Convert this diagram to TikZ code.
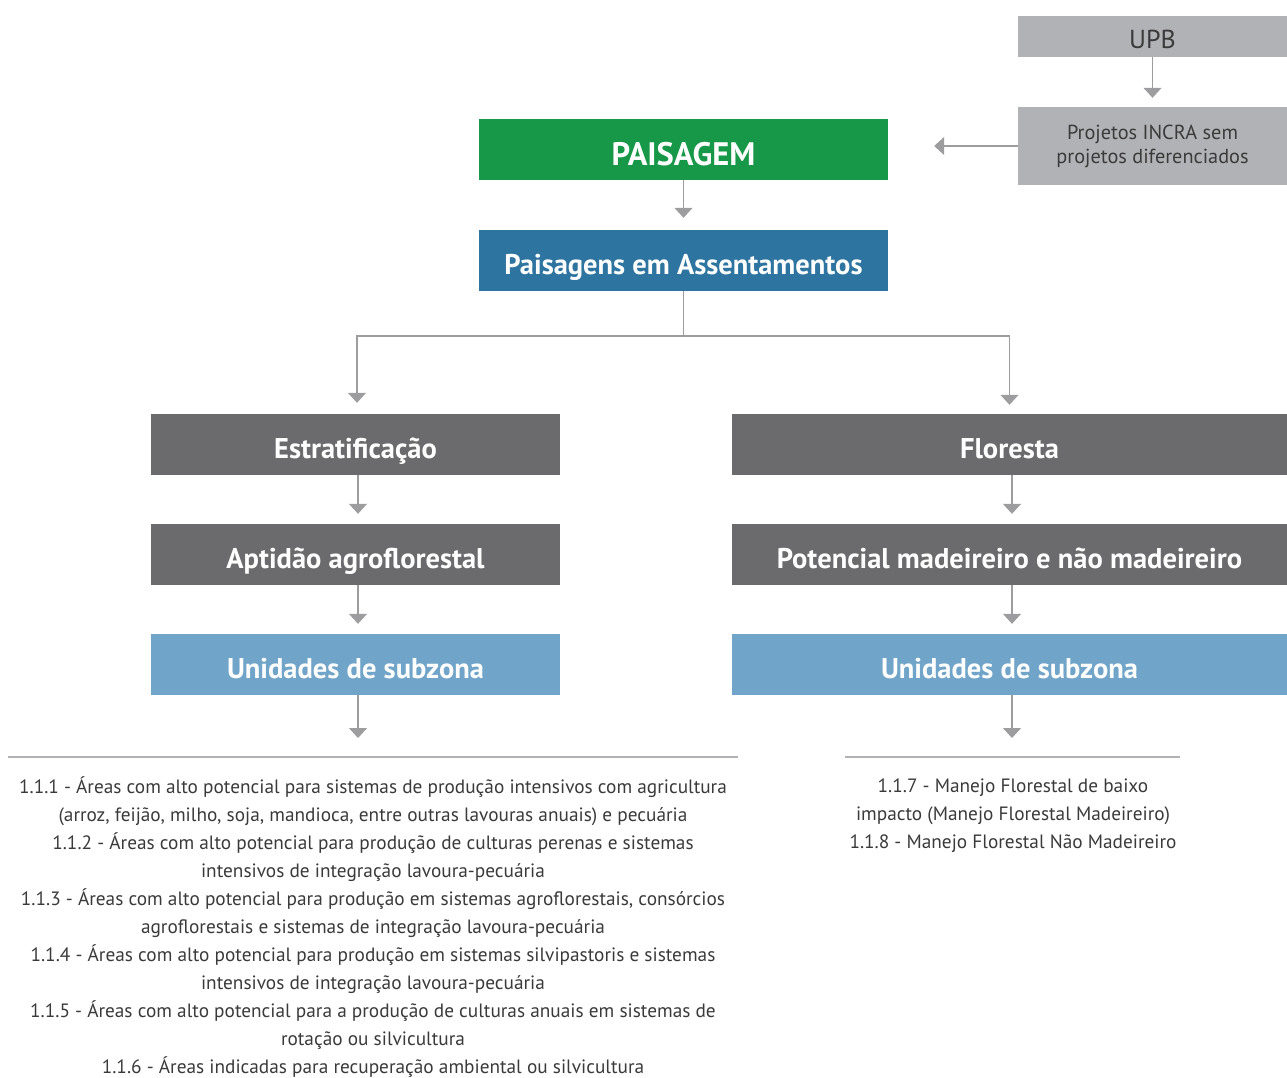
\documentclass[tikz,border=0pt]{standalone}
\usepackage{fontspec}
\setmainfont{PT Sans}
\usetikzlibrary{arrows.meta}
\definecolor{cgreen}{HTML}{169848}
\definecolor{cblue}{HTML}{2D74A0}
\definecolor{cdark}{HTML}{6B6B6D}
\definecolor{clight}{HTML}{70A4C8}
\definecolor{cpale}{HTML}{B1B2B5}
\definecolor{cline}{HTML}{9D9D9F}
\definecolor{ctext}{HTML}{3A3A3A}
\tikzset{
  boxbase/.style={rectangle, inner sep=0pt, minimum height=61pt, text height=28pt, text depth=0pt, text=white, font=\fontsize{28.5}{32}\selectfont\bfseries},
  greenbox/.style={boxbase, fill=cgreen, minimum width=409pt, font=\fontsize{32.5}{36}\selectfont\bfseries, text height=31pt},
  bluebox/.style={boxbase, fill=cblue, minimum width=409pt},
  leftbox/.style={boxbase, fill=cdark, minimum width=409pt},
  rightbox/.style={boxbase, fill=cdark, minimum width=555pt},
  lleftbox/.style={boxbase, fill=clight, minimum width=409pt},
  lrightbox/.style={boxbase, fill=clight, minimum width=555pt},
  palebox/.style={rectangle, inner sep=0pt, fill=cpale, minimum width=269pt, text=ctext, align=center},
  arr/.style={draw=cline, line width=1.3pt, -{Triangle[width=18pt,length=10pt]}},
  plain/.style={draw=cline, line width=1.3pt},
  rule/.style={draw=cpale, line width=1.3pt},
  list/.style={text=ctext, align=center, font=\fontsize{19.3}{28}\selectfont, inner sep=0pt}
}
\begin{document}
\begin{tikzpicture}[x=1pt,y=-1pt]
\useasboundingbox (0,0) rectangle (1287,1077);
% top right
\node[palebox, minimum height=41pt, text height=23pt, text depth=0pt, font=\fontsize{26}{28}\selectfont] (upb) at (1152.5,36.5) {UPB};
\node[palebox, minimum height=78pt, font=\fontsize{20.3}{24}\selectfont] (proj) at (1152.5,146) {Projetos INCRA sem\\projetos diferenciados};
% main chain
\node[greenbox] (pais) at (683.5,149.5) {PAISAGEM};
\node[bluebox] (assent) at (683.5,260.5) {Paisagens em Assentamentos};
\node[leftbox] (estrat) at (355.5,444.5) {Estratificação};
\node[leftbox] (aptid) at (355.5,554.5) {Aptidão agroflorestal};
\node[lleftbox] (unil) at (355.5,664.5) {Unidades de subzona};
\node[rightbox] (flor) at (1009.5,444.5) {Floresta};
\node[rightbox] (potenc) at (1009.5,554.5) {Potencial madeireiro e não madeireiro};
\node[lrightbox] (unir) at (1009.5,664.5) {Unidades de subzona};
% coordinates
\coordinate (split) at (683.5,336);
\coordinate (ltip) at (358,738);
\coordinate (rtip) at (1012,738);
\coordinate (lr1) at (8,757);
\coordinate (lr2) at (738,757);
\coordinate (rr1) at (845,757);
\coordinate (rr2) at (1180,757);
% connectors
\draw[arr, shorten >=9pt] (upb) -- (proj);
\draw[arr, shorten >=46pt] (proj.west) -- (proj.west -| pais.east);
\draw[arr, shorten >=12pt] (pais) -- (assent);
\draw[plain] (assent.south) -- (split);
\draw[arr, shorten >=11pt] (split) -| ([xshift=1.5pt]estrat.north);
\draw[arr, shorten >=9pt] (split) -| (flor.north);
\draw[arr, shorten >=10pt] ([xshift=2.5pt]estrat.south) -- ([xshift=2.5pt]aptid.north);
\draw[arr, shorten >=10pt] ([xshift=2.5pt]aptid.south) -- ([xshift=2.5pt]unil.north);
\draw[arr, shorten >=10pt] ([xshift=2.5pt]flor.south) -- ([xshift=2.5pt]potenc.north);
\draw[arr, shorten >=10pt] ([xshift=2.5pt]potenc.south) -- ([xshift=2.5pt]unir.north);
\draw[arr] ([xshift=2.5pt]unil.south) -- (ltip);
\draw[arr] ([xshift=2.5pt]unir.south) -- (rtip);
\draw[rule] (lr1) -- (lr2);
\draw[rule] (rr1) -- (rr2);
% lists
\node[list] (listl) at (373,927) {1.1.1 - Áreas com alto potencial para sistemas de produção intensivos com agricultura\\
(arroz, feijão, milho, soja, mandioca, entre outras lavouras anuais) e pecuária\\
1.1.2 - Áreas com alto potencial para produção de culturas perenas e sistemas\\
intensivos de integração lavoura-pecuária\\
1.1.3 - Áreas com alto potencial para produção em sistemas agroflorestais, consórcios\\
agroflorestais e sistemas de integração lavoura-pecuária\\
1.1.4 - Áreas com alto potencial para produção em sistemas silvipastoris e sistemas\\
intensivos de integração lavoura-pecuária\\
1.1.5 - Áreas com alto potencial para a produção de culturas anuais em sistemas de\\
rotação ou silvicultura\\
1.1.6 - Áreas indicadas para recuperação ambiental ou silvicultura};
\node[list] (listr) at (1013,816) {1.1.7 - Manejo Florestal de baixo\\
impacto (Manejo Florestal Madeireiro)\\
1.1.8 - Manejo Florestal Não Madeireiro};
\end{tikzpicture}
\end{document}
